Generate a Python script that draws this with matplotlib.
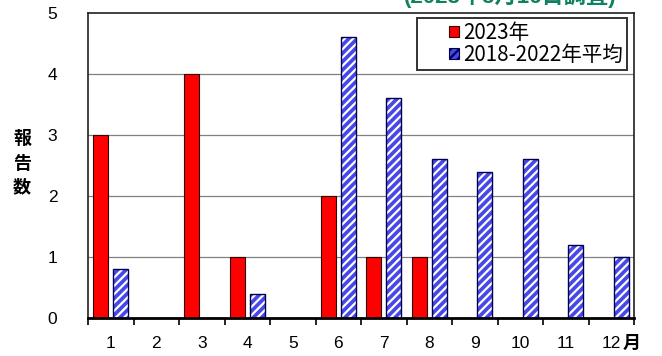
import numpy as np
import matplotlib.pyplot as plt
from matplotlib.patches import Patch, Rectangle
from matplotlib.legend_handler import HandlerPatch

plt.rcParams['font.family'] = ['Liberation Sans', 'Noto Sans CJK JP']
plt.rcParams['hatch.linewidth'] = 1.6

#data
months = ['1', '2', '3', '4', '5', '6', '7', '8', '9', '10', '11', '12']
y2023 = [3, 0, 4, 1, 0, 2, 1, 1, 0, 0, 0, 0]
avg_18_22 = [0.8, 0, 0, 0.4, 0, 4.6, 3.6, 2.6, 2.4, 2.6, 1.2, 1.0]
label_2023 = '2023年'
label_avg = '2018-2022年平均'

x = np.arange(len(months))
w = 0.34
off = 0.22

fig = plt.figure(figsize=[6.62, 3.56], dpi=100)
ax = fig.add_axes([88/662, 1-318/356, 546/662, 305/356])

#gridlines
for v in [1, 2, 3, 4]:
    ax.axhline(v, color='#808080', lw=0.9, zorder=0)

#bars
ax.bar(x - off, y2023, w, color='#ff0000', edgecolor='#300000', lw=0.8, zorder=2)
ax.bar(x + off, avg_18_22, w, color='#4848e8', edgecolor='white', hatch='////', lw=0, zorder=2)
ax.bar(x + off, avg_18_22, w, fill=False, edgecolor='#000050', lw=1.0, zorder=3)

ax.set_xlim(-0.5, 11.5)
ax.set_ylim(0, 5)
ax.set_yticks([0, 1, 2, 3, 4, 5])
ax.tick_params(axis='y', length=0, pad=22, labelsize=12.5)
ax.set_xticks(x)
ax.set_xticklabels(months, fontsize=12.5)
ax.set_xticks(np.arange(-0.5, 12, 1), minor=True)
ax.tick_params(axis='x', which='major', length=0, pad=13)
ax.tick_params(axis='x', which='minor', length=5, width=1.2, direction='out')
for s in ['top', 'right', 'left']:
    ax.spines[s].set_linewidth(1.2)
    ax.spines[s].set_color('#202020')
ax.spines['bottom'].set_linewidth(2)

ax.text(11.45, -0.44, '月', fontsize=13, fontweight='bold', ha='center', va='center', clip_on=False)

fig.text(22/662, 1-164/356, '報\n告\n数', fontsize=13, fontweight='bold',
         ha='center', va='center', linespacing=1.55)

fig.text(0.770, 1-8/356, '(2023年5月16日調査)', fontsize=16, fontweight='bold',
         color='#0f8060', ha='center', va='bottom')


#small square handle sitting at the right end of the handle box
def small_square(legend, orig_handle, xdescent, ydescent, width, height, fontsize):
    s = 7.5
    return Rectangle((-xdescent + width - s, -ydescent + (height - s) / 2), s, s)


handles = [Patch(facecolor='#ff0000', edgecolor='#300000', lw=0.8),
           Patch(facecolor='#4848e8', edgecolor='#000050', hatch='////', lw=0.8)]
leg = ax.legend(handles, [label_2023, label_avg], loc='upper right',
                bbox_to_anchor=(0.988, 0.985),
                prop={'family': ['Noto Sans CJK JP'], 'size': 14.8},
                frameon=True, fancybox=False, edgecolor='black',
                handler_map={Patch: HandlerPatch(patch_func=small_square)},
                handlelength=1.85, handleheight=0.7, handletextpad=0.2,
                borderpad=0.2, labelspacing=0.0, borderaxespad=0)
leg.get_frame().set_linewidth(1.4)

plt.savefig('out.png', dpi=100)
plt.close()
